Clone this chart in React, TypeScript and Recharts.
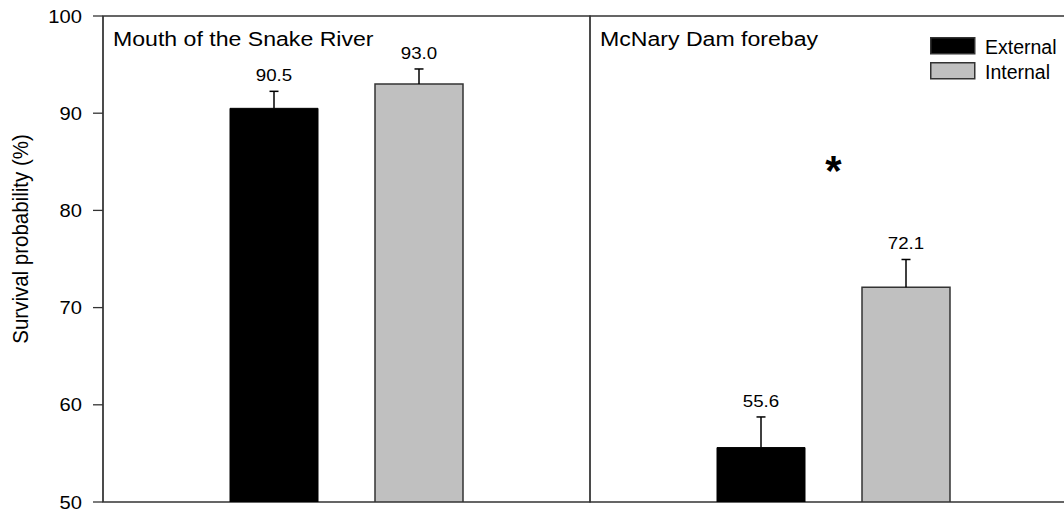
import React from 'react';
import { BarChart, Bar, XAxis, YAxis, ReferenceArea, ReferenceDot, Legend, LabelList } from 'recharts';

const sites = ['Mouth of the Snake River', 'McNary Dam forebay'];
const externalValues = [90.5, 55.6];
const internalValues = [93.0, 72.1];
const externalErrors = [1.75, 3.15];
const internalErrors = [1.55, 2.85];
const significant = [false, true];
const significanceMarkY = [85, 85];
const yTicks = [50, 60, 70, 80, 90, 100];
const seriesNames = ['External', 'Internal'];
const yAxisTitle = 'Survival probability (%)';

const data = sites.map((site, i) => ({
  site,
  ext: externalValues[i],
  extErr: externalErrors[i],
  int: internalValues[i],
  intErr: internalErrors[i],
}));

const FONT = '"Liberation Sans", Arial, Helvetica, sans-serif';
const AXIS = '#333';

function SText(props: any) {
  const { x, y, anchor = 'start', size, sx = 1, sy = 1, rotate = 0, weight = 'normal', children } = props;
  const t = `translate(${x},${y})${rotate ? ` rotate(${rotate})` : ''} scale(${sx},${sy})`;
  return (
    <text transform={t} x={0} y={0} textAnchor={anchor} fontSize={size} fontWeight={weight} fontFamily={FONT} fill="#000">
      {children}
    </text>
  );
}

const ErrShape = (props: any) => {
  const { x, y, width, height } = props;
  if (x == null || y == null) return null;
  const cx = x + width / 2;
  return (
    <g>
      <line x1={cx} x2={cx} y1={y + height} y2={y} stroke="#000" strokeWidth={1.5} />
      <line x1={cx - 4.5} x2={cx + 4.5} y1={y} y2={y} stroke="#000" strokeWidth={1.5} />
    </g>
  );
};

const renderValueLabel = (props: any) => {
  const vb = props.viewBox || props;
  const v = Number(props.value);
  return (
    <SText x={vb.x + vb.width / 2} y={vb.y - 10} anchor="middle" size={17} sx={1.1}>
      {v.toFixed(1)}
    </SText>
  );
};

const renderTitle = (props: any) => {
  const vb = props.viewBox;
  return (
    <SText x={vb.x + 10} y={vb.y + 30} size={21} sx={1.1}>
      {props.value}
    </SText>
  );
};

const renderStar = (props: any) => {
  const vb = props.viewBox;
  const size = 42;
  return (
    <SText x={vb.x} y={vb.y + size * 0.56} anchor="middle" size={size} weight="bold">
      *
    </SText>
  );
};

const YTick = (props: any) => {
  const { x, y, payload } = props;
  return (
    <SText x={x} y={y + 6.5} anchor="end" size={18} sx={1.12}>
      {payload.value}
    </SText>
  );
};

const renderYLabel = (props: any) => {
  const vb = props.viewBox;
  return (
    <SText x={28} y={vb.y + vb.height / 2 - 20} anchor="middle" size={20.5} sy={1.1} rotate={-90}>
      {yAxisTitle}
    </SText>
  );
};

const renderLegend = (props: any) => {
  const payload = (props.payload || []).filter((e: any) => seriesNames.includes(e.value));
  return (
    <svg width={134} height={45} style={{ display: 'block', overflow: 'visible' }}>
      {payload.map((e: any, i: number) => (
        <g key={i}>
          <rect x={0.75} y={i * 25 + 0.75} width={44} height={16} fill={e.color} stroke={AXIS} strokeWidth={1.5} />
          <text x={55} y={i * 25 + 17} fontSize={19.5} fontFamily={FONT} fill="#000">
            {e.value}
          </text>
        </g>
      ))}
    </svg>
  );
};

export default function App() {
  return (
    <div style={{ position: 'absolute', left: 0, top: 0, width: 1064, height: 511, overflow: 'hidden', background: '#fff' }}>
      <BarChart
        width={1090}
        height={511}
        data={data}
        margin={{ top: 16, right: 13, bottom: 9, left: 0 }}
        barSize={88}
        barGap={57}
      >
        <XAxis dataKey="site" hide />
        <YAxis
          type="number"
          domain={[50, 100]}
          ticks={yTicks}
          allowDataOverflow
          width={103}
          tickSize={10}
          tickMargin={11}
          stroke={AXIS}
          axisLine={{ stroke: AXIS, strokeWidth: 1.3 }}
          tickLine={{ stroke: AXIS, strokeWidth: 1.3 }}
          tick={<YTick />}
          label={{ content: renderYLabel }}
        />
        {sites.map((site) => (
          <ReferenceArea
            key={site}
            x1={site}
            x2={site}
            y1={50}
            y2={100}
            fill="none"
            fillOpacity={0}
            stroke={AXIS}
            strokeWidth={1.3}
            label={{ value: site, content: renderTitle }}
          />
        ))}
        <Bar dataKey="ext" name={seriesNames[0]} stackId="ext" fill="#000" stroke="#000" strokeWidth={1} isAnimationActive={false} />
        <Bar dataKey="extErr" stackId="ext" fill="none" legendType="none" shape={<ErrShape />} isAnimationActive={false}>
          <LabelList dataKey="ext" content={renderValueLabel} />
        </Bar>
        <Bar dataKey="int" name={seriesNames[1]} stackId="int" fill="#c0c0c0" stroke={AXIS} strokeWidth={1.5} isAnimationActive={false} />
        <Bar dataKey="intErr" stackId="int" fill="none" legendType="none" shape={<ErrShape />} isAnimationActive={false}>
          <LabelList dataKey="int" content={renderValueLabel} />
        </Bar>
        {sites.map((site, i) =>
          significant[i] ? (
            <ReferenceDot
              key={`sig-${site}`}
              x={site}
              y={significanceMarkY[i]}
              r={0}
              fill="none"
              stroke="none"
              label={{ content: renderStar }}
            />
          ) : null
        )}
        <Legend
          layout="vertical"
          align="center"
          verticalAlign="middle"
          content={renderLegend}
          wrapperStyle={{ position: 'absolute', top: 37, left: 930, width: 134, height: 45 }}
        />
      </BarChart>
    </div>
  );
}
